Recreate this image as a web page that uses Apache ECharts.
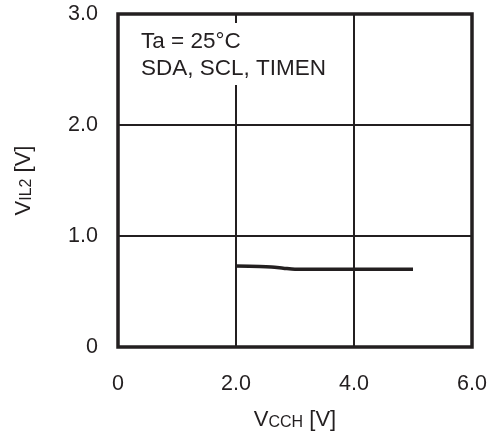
<!DOCTYPE html>
<html><head><meta charset="utf-8">
<script src="https://cdn.jsdelivr.net/npm/echarts@6/dist/echarts.min.js"></script>
<style>html,body{margin:0;padding:0;background:#fff}#c{width:495px;height:436px}</style>
</head><body><div id="c"></div>
<script>
const vcch = [2.0, 2.4, 2.6, 2.8, 3.0, 4.0, 5.0];
const vil2 = [0.73, 0.725, 0.72, 0.71, 0.70, 0.70, 0.70];
const xTicks = ['0', '2.0', '4.0', '6.0'];
const yTicks = ['0', '1.0', '2.0', '3.0'];
const notes = ['Ta = 25°C', 'SDA, SCL, TIMEN'];

const ink = '#231f20';
const font = 'Liberation Sans, Arial, sans-serif';
const chart = echarts.init(document.getElementById('c'), null, {renderer: 'canvas'});
chart.setOption({
  animation: false,
  grid: {left: 118, top: 14, right: 23, bottom: 89, show: true, borderColor: ink, borderWidth: 3.5, backgroundColor: 'transparent'},
  xAxis: {
    type: 'value', min: 0, max: 6, interval: 2,
    axisLine: {show: false}, axisTick: {show: false},
    splitLine: {lineStyle: {color: ink, width: 2}},
    axisLabel: {fontFamily: font, fontSize: 21.5, color: ink, margin: 26,
      formatter: v => xTicks[Math.round(v / 2)]},
    name: 'V{s|CCH} [V]', nameLocation: 'middle', nameGap: 62,
    nameTextStyle: {fontFamily: font, fontSize: 22, color: ink,
      rich: {s: {fontFamily: font, fontSize: 16, color: ink, verticalAlign: 'bottom'}}}
  },
  yAxis: {
    type: 'value', min: 0, max: 3, interval: 1,
    axisLine: {show: false}, axisTick: {show: false},
    splitLine: {lineStyle: {color: ink, width: 2}},
    axisLabel: {fontFamily: font, fontSize: 21.5, color: ink, margin: 20,
      formatter: v => yTicks[Math.round(v)]},
    name: 'V{s|IL2} [V]', nameLocation: 'middle', nameGap: 83, nameRotate: 90,
    nameTextStyle: {fontFamily: font, fontSize: 22, color: ink,
      rich: {s: {fontFamily: font, fontSize: 16, color: ink, verticalAlign: 'bottom'}}}
  },
  graphic: [
    {type: 'rect', left: 136, top: 23, z: 10, shape: {width: 196, height: 62}, style: {fill: '#fff'}},
    {type: 'text', left: 141, top: 30, z: 11, style: {text: notes[0], font: '22.5px ' + font, fill: ink}},
    {type: 'text', left: 141, top: 57, z: 11, style: {text: notes[1], font: '22.5px ' + font, fill: ink}}
  ],
  series: [{
    type: 'line', data: vcch.map((x, i) => [x, vil2[i]]),
    showSymbol: false, smooth: 0.3,
    lineStyle: {color: ink, width: 3.5}
  }]
});
</script></body></html>
